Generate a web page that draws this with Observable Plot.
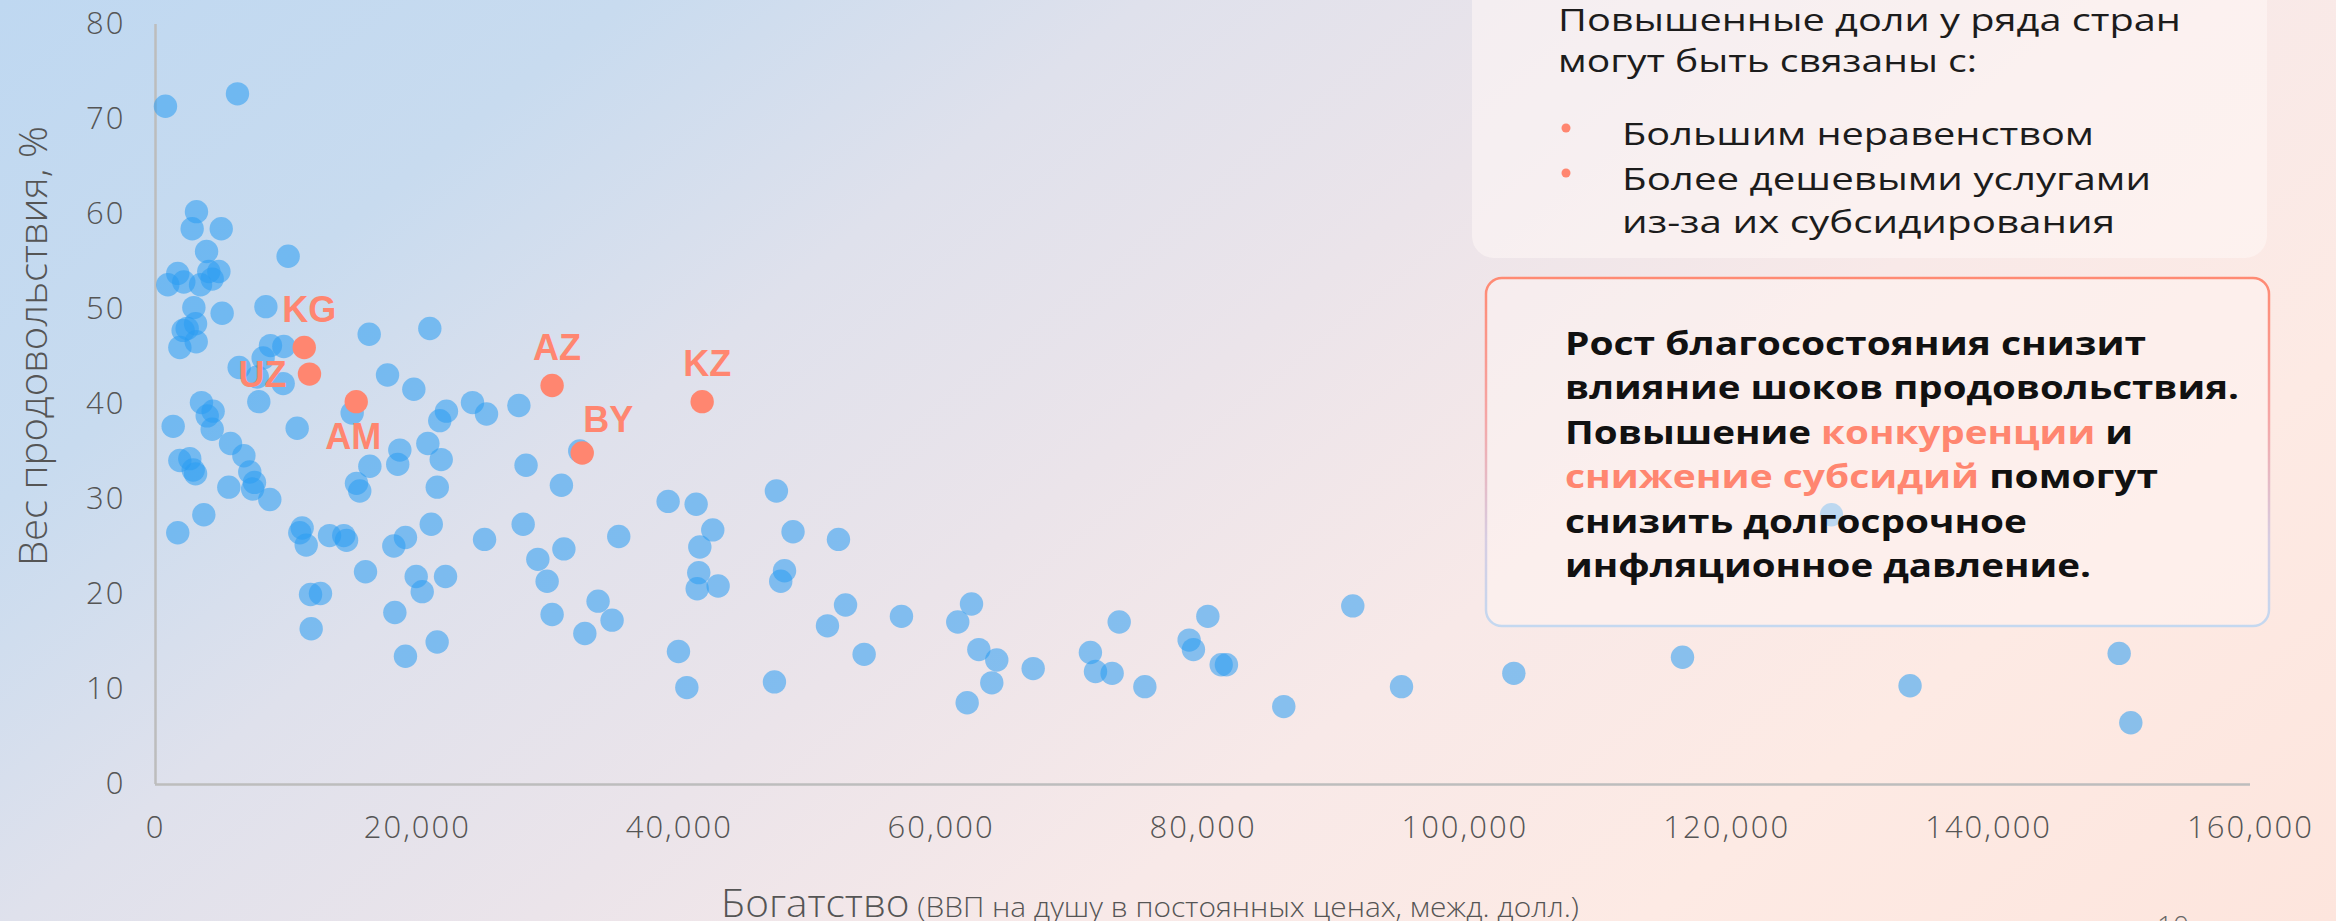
<!DOCTYPE html>
<html>
<head>
<meta charset="utf-8">
<script src="https://cdn.jsdelivr.net/npm/d3@7"></script>
<script src="https://cdn.jsdelivr.net/npm/@observablehq/plot@0.6"></script>
<style>
  html, body { margin: 0; padding: 0; }
  #wrap {
    position: relative; width: 2336px; height: 921px; overflow: hidden;
    background: linear-gradient(141deg, #bfd8f1 0%, #c8dbef 18%, #dfe1ec 33%, #ebe4ea 48%, #f8e9e8 64%, #fdeae4 80%, #fde5dd 100%);
  }
  #wrap svg { position: absolute; left: 0; top: 0; }
  #chart g[aria-label$="tick label"] text { letter-spacing: 2px; }
</style>
</head>
<body>
<div id="wrap"><div id="chart"></div></div>
<script>
// ---- data ----
const gdp = [
  760, 6260, 3130, 2800, 5020, 3900, 10130, 1700, 940, 2160, 3440, 4070, 4840, 4330,
  2930, 5090, 8430, 3060, 2110, 2420, 1860, 3110, 8780, 9800, 8220, 6390, 7770, 9750,
  16320, 20950, 17720, 19730, 7890, 3510, 4400, 3950, 4330, 1350, 10820, 15020, 21710,
  22220, 24210, 25280, 27750, 32400, 5730, 6750, 1860, 2620, 3060, 2880, 7200, 7560,
  7420, 8730, 5600, 3690, 1700, 16370, 18660, 18500, 20800, 21820, 15350, 15600, 21520,
  28300, 31000, 11200, 11020, 11510, 13290, 14380, 14590, 19090, 18200, 21060, 25130,
  28080, 35380, 29200, 31190, 29910, 16040, 19910, 20370, 22150, 11840, 12600, 11890,
  18280, 21510, 19090, 30290, 33800, 34870, 32790, 39150, 41290, 47420, 42560, 41570,
  48690, 52160, 41490, 41370, 42970, 48040, 47750, 52700, 51320, 56970, 62320, 61270,
  73600, 39940, 40580, 47270, 54120, 62880, 64250, 63870, 61990, 67030, 71400, 71790,
  73060, 80370, 78940, 79270, 81390, 81790, 75560, 86170, 91440, 95160, 103740, 116620,
  134000, 149970, 150860, 128000
];
const foodShare = [
  71.4, 72.7, 60.3, 58.5, 58.5, 56.1, 55.6, 53.8, 52.6, 52.9, 52.6, 54.0, 54.0, 53.2,
  50.2, 49.6, 50.3, 48.5, 47.8, 48.0, 46.0, 46.6, 46.2, 46.1, 44.9, 43.9, 42.9, 42.2,
  47.4, 48.0, 43.1, 41.6, 40.3, 40.2, 39.3, 38.8, 37.4, 37.7, 37.5, 39.1, 38.3,
  39.3, 40.2, 39.0, 39.9, 35.1, 35.9, 34.6, 34.1, 34.3, 32.7, 33.1, 32.9, 31.8,
  31.1, 30.0, 31.3, 28.4, 26.5, 33.5, 35.2, 33.7, 35.9, 34.2, 31.7, 30.9, 31.3,
  33.6, 31.5, 27.0, 26.5, 25.2, 26.2, 26.2, 25.7, 26.0, 25.1, 27.4, 25.8,
  27.4, 26.1, 23.7, 24.8, 21.4, 22.4, 21.9, 20.3, 21.9, 20.0, 20.1, 16.4,
  18.1, 15.0, 13.5, 17.9, 19.3, 17.3, 15.9, 29.8, 29.5, 30.9, 26.8, 25.0,
  26.6, 25.8, 22.3, 20.6, 20.9, 22.5, 21.4, 18.9, 16.7, 17.7, 19.0, 17.1,
  17.1, 14.0, 10.2, 10.8, 13.7, 14.2, 13.1, 10.7, 8.6, 12.2, 13.9, 11.9,
  11.7, 17.7, 15.2, 14.2, 12.6, 12.6, 10.3, 8.2, 18.8, 10.3, 11.7, 13.4,
  10.4, 13.8, 6.5, 28.4
];
const hlCountries = ["KG", "UZ", "AM", "AZ", "BY", "KZ"];
const hlGdp       = [11360, 11760, 15330, 30290, 32590, 41750];
const hlFood      = [46.0, 43.2, 40.3, 42.0, 34.9, 40.3];

const xTicks = [0, 20000, 40000, 60000, 80000, 100000, 120000, 140000, 160000];
const yTicks = [0, 10, 20, 30, 40, 50, 60, 70, 80];

const yTitle = "Вес продовольствия, %";
const xTitleMain = "Богатство";
const xTitleSub = " (ВВП на душу в постоянных ценах, межд. долл.)";
const note1 = ["Повышенные доли у ряда стран", "могут быть связаны с:"];
const note1Bullets = ["Большим неравенством", "Более дешевыми услугами", "из-за их субсидирования"];
const note2 = [
  [["Рост благосостояния снизит"]],
  [["влияние шоков продовольствия."]],
  [["Повышение "], ["конкуренции", true], [" и"]],
  [["снижение субсидий", true], [" помогут"]],
  [["снизить долгосрочное"]],
  [["инфляционное давление."]]
];

// ---- tables built from the arrays ----
const points = gdp.map((g, i) => ({gdp: g, food: foodShare[i]}));
const highlighted = hlCountries.map((c, i) => ({name: c, gdp: hlGdp[i], food: hlFood[i]}));

const BLUE = "#2a9cf2";
const SALMON = "#ff8670";
const labelFont = {fontFamily: "Liberation Sans, Arial, sans-serif", fontWeight: "bold", fontSize: 36, fill: SALMON};

const chart = Plot.plot({
  width: 2336, height: 921,
  marginLeft: 155, marginRight: 86, marginTop: 24, marginBottom: 137,
  x: {domain: [0, 160000]},
  y: {domain: [0, 80]},
  style: {background: "transparent", fontFamily: "'Open Sans', sans-serif", fontSize: "31px", color: "#555", overflow: "visible"},
  marks: [
    Plot.axisX({ticks: xTicks, tickSize: 0, tickPadding: 31, tickFormat: d3.format(","), label: null, fontWeight: 300}),
    Plot.axisY({ticks: yTicks, tickSize: 0, tickPadding: 30, label: null, fontWeight: 300}),
    Plot.ruleX([0], {stroke: "#bdbdbd", strokeWidth: 2.5}),
    Plot.ruleY([0], {stroke: "#bdbdbd", strokeWidth: 2.5}),
    Plot.dot(points, {x: "gdp", y: "food", r: 11.7, fill: BLUE, fillOpacity: 0.55}),
    Plot.dot(highlighted, {x: "gdp", y: "food", r: 11.7, fill: SALMON}),
    Plot.text(highlighted, {x: "gdp", y: "food", text: "name", filter: d => ["KG", "AZ", "KZ"].includes(d.name),
      dx: 5, dy: -26, lineAnchor: "bottom", ...labelFont}),
    Plot.text(highlighted, {x: "gdp", y: "food", text: "name", filter: d => d.name === "BY",
      dx: 26, dy: -21, lineAnchor: "bottom", ...labelFont}),
    Plot.text(highlighted, {x: "gdp", y: "food", text: "name", filter: d => d.name === "UZ",
      dx: -23, dy: 1, textAnchor: "end", lineAnchor: "middle", ...labelFont}),
    Plot.text(highlighted, {x: "gdp", y: "food", text: "name", filter: d => d.name === "AM",
      dx: -3, dy: 22, lineAnchor: "top", ...labelFont})
  ]
});
document.getElementById("chart").appendChild(chart);

// ---- annotation layer (titles and callout boxes) ----
const ov = d3.select("#wrap").append("svg").attr("width", 2336).attr("height", 921)
  .style("pointer-events", "none");
const defs = ov.append("defs");
const lg = defs.append("linearGradient").attr("id", "box2grad").attr("x1", 0).attr("y1", 0).attr("x2", 0).attr("y2", 1);
lg.append("stop").attr("offset", "0%").attr("stop-color", "#ff8a73");
lg.append("stop").attr("offset", "40%").attr("stop-color", "#f5a6a6");
lg.append("stop").attr("offset", "75%").attr("stop-color", "#d7cde2");
lg.append("stop").attr("offset", "100%").attr("stop-color", "#c4d8f0");

function addLine(x, y, segs, o) {
  const t = ov.append("text").attr("x", x).attr("y", y)
    .attr("font-family", o.family || "'Open Sans', sans-serif")
    .attr("font-size", o.size).attr("font-weight", o.weight || 400)
    .attr("fill", o.fill || "#1c1c1c").style("white-space", "pre");
  if (o.width) t.attr("textLength", o.width).attr("lengthAdjust", "spacingAndGlyphs");
  if (o.anchor) t.attr("text-anchor", o.anchor);
  if (o.transform) t.attr("transform", o.transform);
  segs.forEach(s => {
    const ts = t.append("tspan").text(s[0]);
    if (s[1]) ts.attr("fill", SALMON);
    if (s[2]) ts.attr("font-size", s[2]);
  });
  return t;
}

// box 1
ov.append("rect").attr("x", 1472).attr("y", -40).attr("width", 795).attr("height", 298).attr("rx", 22)
  .attr("fill", "#fff7f5").attr("fill-opacity", 0.55);
addLine(1558, 31, [[note1[0]]], {size: 31, width: 623});
addLine(1558, 72, [[note1[1]]], {size: 31, width: 419});
ov.append("circle").attr("cx", 1566).attr("cy", 128).attr("r", 4.5).attr("fill", SALMON);
ov.append("circle").attr("cx", 1566).attr("cy", 173).attr("r", 4.5).attr("fill", SALMON);
addLine(1622, 145, [[note1Bullets[0]]], {size: 31, width: 472});
addLine(1622, 190, [[note1Bullets[1]]], {size: 31, width: 529});
addLine(1622, 233, [[note1Bullets[2]]], {size: 31, width: 493});

// box 2
ov.append("rect").attr("x", 1486).attr("y", 278).attr("width", 783).attr("height", 348).attr("rx", 16)
  .attr("fill", "#fff7f5").attr("fill-opacity", 0.45)
  .attr("stroke", "url(#box2grad)").attr("stroke-width", 2.5);
const note2Widths = [581, 674, 568, 593, 462, 526];
note2.forEach((segs, i) => addLine(1565, 355 + 44.4 * i, segs, {size: 32, weight: 700, width: note2Widths[i], fill: "#111"}));

// axis titles
addLine(47, 346, [[yTitle]], {size: 38, weight: 300, width: 440, anchor: "middle", fill: "#555", transform: "rotate(-90 47 346)"});
addLine(721, 917, [[xTitleMain], [xTitleSub, false, 28]], {size: 38, weight: 300, width: 858, fill: "#555"});
// page number (cut off at the bottom)
addLine(2173, 936, [["10"]], {size: 28, weight: 300, anchor: "middle", fill: "#666"});
</script>
</body>
</html>
